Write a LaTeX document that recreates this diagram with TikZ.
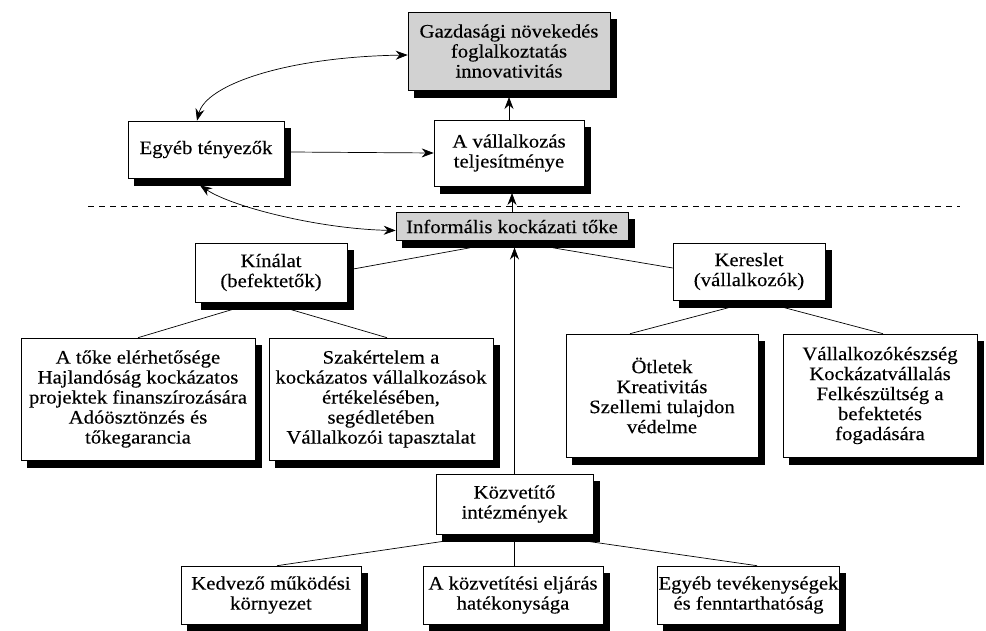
\documentclass[tikz,border=0pt]{standalone}
\usepackage{fontspec}
\setmainfont{Liberation Serif}[FakeStretch=1.09,FakeBold=0.3]
\usetikzlibrary{arrows.meta,calc}
% shadowed box: name, cx, cy, width, height, style, text
\newcommand\shbox[7]{%
  \node[shadownode,minimum width=#4pt,minimum height=#5pt] (#1sh) at (#2+6,#3+7) {};
  \node[#6,minimum width=#4pt,minimum height=#5pt] (#1) at (#2,#3) {#7};}
\begin{document}
\begin{tikzpicture}[x=1pt,y=-1pt,
  box/.style={draw=black,line width=0.6pt,fill=white,align=center,inner sep=1pt,
    font=\fontsize{19}{20}\selectfont},
  grbox/.style={box,fill=gray!35},
  shadownode/.style={draw=black,fill=black,line width=0.6pt,inner sep=0pt,outer sep=0pt},
  ln/.style={line width=0.7pt},
  arr/.style={ln,-{Stealth[length=12pt,width=9pt]}},
  arrboth/.style={ln,{Stealth[length=12pt,width=9pt]}-{Stealth[length=12pt,width=9pt]}}]
\useasboundingbox (0,0) rectangle (986,631);
% nodes
\shbox{top}{509}{51}{202}{78}{grbox}{Gazdasági növekedés\\foglalkoztatás\\innovativitás}
\shbox{egyeb}{206}{149.5}{156}{57}{box}{Egyéb tényezők}
\shbox{vall}{509}{153}{150}{66}{box}{A vállalkozás\\teljesítménye}
\shbox{inf}{512}{226.5}{232}{28}{grbox}{Informális kockázati tőke}
\shbox{kin}{271}{272.5}{152}{59}{box}{Kínálat\\(befektetők)}
\shbox{ker}{749}{271.5}{152}{57}{box}{Kereslet\\(vállalkozók)}
\shbox{toke}{138}{399}{234}{122}{box}{A tőke elérhetősége\\Hajlandóság kockázatos\\projektek finanszírozására\\Adóösztönzés és\\tőkegarancia}
\shbox{szak}{381}{399}{224}{122}{box}{Szakértelem a\\kockázatos vállalkozások\\értékelésében,\\segédletében\\Vállalkozói tapasztalat}
\shbox{otl}{662}{395.5}{192}{123}{box}{Ötletek\\Kreativitás\\Szellemi tulajdon\\védelme}
\shbox{vkk}{880}{395.5}{194}{123}{box}{Vállalkozókészség\\Kockázatvállalás\\Felkészültség a\\befektetés\\fogadására}
\shbox{kozv}{514.5}{504}{157}{60}{box}{Közvetítő\\intézmények}
\shbox{ked}{271}{595}{180}{58}{box}{Kedvező működési\\környezet}
\shbox{akoz}{513}{595}{180}{58}{box}{A közvetítési eljárás\\hatékonysága}
\shbox{egyt}{748.5}{595}{182}{58}{box}{Egyéb tevékenységek\\és fenntarthatóság}
% dashed line
\coordinate (dl) at (88,206);
\coordinate (dr) at (960,206);
\draw[ln,dash pattern=on 6pt off 5pt] (dl) -- (dr);
% connectors
\draw[arr] (vall.north) -- (topsh.south -| vall.north);
\draw[arr] (inf.north) -- (inf.north |- vallsh.south);
\draw[arr] ($(egyeb.east)+(6,2.5)$) -- (vall.west);
\draw[arrboth] ($(egyeb.north)+(-9,0)$) .. controls (206,85) and (285,57) .. ($(top.west)+(0,4)$);
\draw[arrboth] ($(egyeb.south)+(-6,7)$) .. controls (232,207) and (320,229) .. ($(inf.west)+(0,4)$);
\draw[ln] ($(kin.east)+(6,-3.5)$) -- ($(inf.south)+(-42,7)$);
\draw[ln] ($(ker.west)+(0,-3.5)$) -- ($(inf.south)+(41,7)$);
\draw[ln] ($(kin.south)+(-38,7)$) -- (toke.north);
\draw[ln] ($(kin.south)+(19,7)$) -- ($(szak.north)+(6,0)$);
\draw[ln] ($(ker.south)+(-19,7)$) -- ($(otl.north)+(-32,0)$);
\draw[ln] ($(ker.south)+(34,7)$) -- ($(vkk.north)+(3,0)$);
\draw[arr] (kozv.north) -- (kozv.north |- infsh.south);
\draw[ln] (kozv.south) -- (kozv.south |- akoz.north);
\draw[ln] ($(kozv.south)+(-71,7)$) -- ($(ked.north)+(6,0)$);
\draw[ln] ($(kozv.south)+(73,7)$) -- ($(egyt.north)+(8.5,0)$);
\end{tikzpicture}
\end{document}
